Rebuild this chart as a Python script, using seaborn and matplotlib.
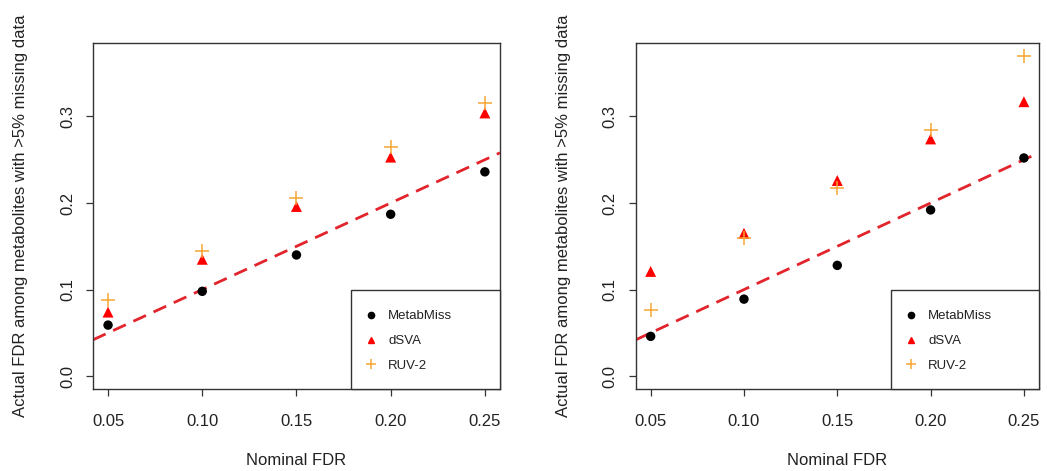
import numpy as np
import pandas as pd
import matplotlib
matplotlib.use("Agg")
import matplotlib.pyplot as plt
from matplotlib.patches import Rectangle
from matplotlib.lines import Line2D
import seaborn as sns

# Nominal FDR levels
nominal = [0.05, 0.10, 0.15, 0.20, 0.25]

# Panel 1: actual FDR per method
left_metabmiss = [0.059, 0.098, 0.140, 0.187, 0.236]
left_dsva = [0.074, 0.135, 0.196, 0.253, 0.304]
left_ruv2 = [0.088, 0.145, 0.206, 0.265, 0.315]

# Panel 2: actual FDR per method
right_metabmiss = [0.046, 0.089, 0.128, 0.192, 0.252]
right_dsva = [0.121, 0.165, 0.226, 0.274, 0.317]
right_ruv2 = [0.076, 0.160, 0.217, 0.284, 0.370]

methods = ["MetabMiss", "dSVA", "RUV-2"]
colors = {"MetabMiss": "black", "dSVA": "#ff0000", "RUV-2": "#f8a535"}
markers = {"MetabMiss": "o", "dSVA": "^", "RUV-2": "+"}
sizes = {"MetabMiss": 46, "dSVA": 62, "RUV-2": 100}

x_ticks = [0.05, 0.10, 0.15, 0.20, 0.25]
x_ticklabels = ["0.05", "0.10", "0.15", "0.20", "0.25"]
y_ticks = [0.0, 0.1, 0.2, 0.3]
y_ticklabels = ["0.0", "0.1", "0.2", "0.3"]

sns.set_style("white")
plt.rcParams["font.family"] = ["Liberation Sans", "DejaVu Sans"]

fig = plt.figure(figsize=(10.47, 4.71), dpi=100)
ax_left = fig.add_axes([0.0888, 0.1741, 0.3887, 0.7346])
ax_right = fig.add_axes([0.6072, 0.1741, 0.3850, 0.7346])

panels = [
    (ax_left, {"MetabMiss": left_metabmiss, "dSVA": left_dsva, "RUV-2": left_ruv2}),
    (ax_right, {"MetabMiss": right_metabmiss, "dSVA": right_dsva, "RUV-2": right_ruv2}),
]

all_y = left_metabmiss + left_dsva + left_ruv2 + right_metabmiss + right_dsva + right_ruv2
ymax = max(all_y)
ypad = 0.04 * ymax
xpad = 0.04 * (max(nominal) - min(nominal))

for ax, series in panels:
    # identity reference line
    ax.axline((0, 0), slope=1, color="#e2242c", lw=2.0, dashes=(5, 3), zorder=1)
    for m in methods:
        df = pd.DataFrame({"nominal": nominal, "actual": series[m]})
        kw = dict(data=df, x="nominal", y="actual", color=colors[m],
                  marker=markers[m], s=sizes[m], ax=ax, zorder=3, legend=False)
        if markers[m] == "+":
            kw["linewidth"] = 1.1
        else:
            kw["edgecolor"] = "none"
        sns.scatterplot(**kw)

    ax.set_xlim(min(nominal) - xpad, max(nominal) + xpad)
    ax.set_ylim(0 - ypad, ymax + ypad)
    ax.set_xticks(x_ticks)
    ax.set_xticklabels(x_ticklabels)
    ax.set_yticks(y_ticks)
    ax.set_yticklabels(y_ticklabels, rotation=90, va="center")
    ax.tick_params(axis="both", which="major", direction="out", length=5,
                   width=0.9, color="#333333", labelsize=12,
                   labelcolor="#222222", bottom=True, left=True)
    ax.tick_params(axis="x", pad=13)
    ax.tick_params(axis="y", pad=8)
    for sp in ax.spines.values():
        sp.set_visible(True)
        sp.set_color("#333333")
        sp.set_linewidth(1.0)

    ax.set_xlabel("Nominal FDR", fontsize=12, color="#222222")
    ax.set_ylabel("Actual FDR among metabolites with >5% missing data",
                  fontsize=12, color="#222222")
    ax.xaxis.set_label_coords(0.5, -0.185)
    ax.yaxis.set_label_coords(-0.16, 0.5)

    # legend box anchored in the lower-right corner
    ax.add_patch(Rectangle((0.634, 0.0), 0.366, 0.286, transform=ax.transAxes,
                           facecolor="white", edgecolor="#333333", lw=1.0,
                           zorder=4, clip_on=False))
    handles = [
        Line2D([], [], linestyle="none", marker="o", color="black", markersize=4.5),
        Line2D([], [], linestyle="none", marker="^", color="#ff0000", markersize=5),
        Line2D([], [], linestyle="none", marker="+", color="#f8a535", markersize=7,
               markeredgewidth=1.1),
    ]
    leg = ax.legend(handles, methods, loc="upper left",
                    bbox_to_anchor=(0.667, 0.228), frameon=False, fontsize=9.5,
                    handlelength=1.0, handletextpad=0.8, labelspacing=0.95,
                    borderpad=0, borderaxespad=0)
    leg.set_zorder(5)
    for t in leg.get_texts():
        t.set_color("#222222")

fig.savefig("out.png", dpi=100, facecolor="white")
